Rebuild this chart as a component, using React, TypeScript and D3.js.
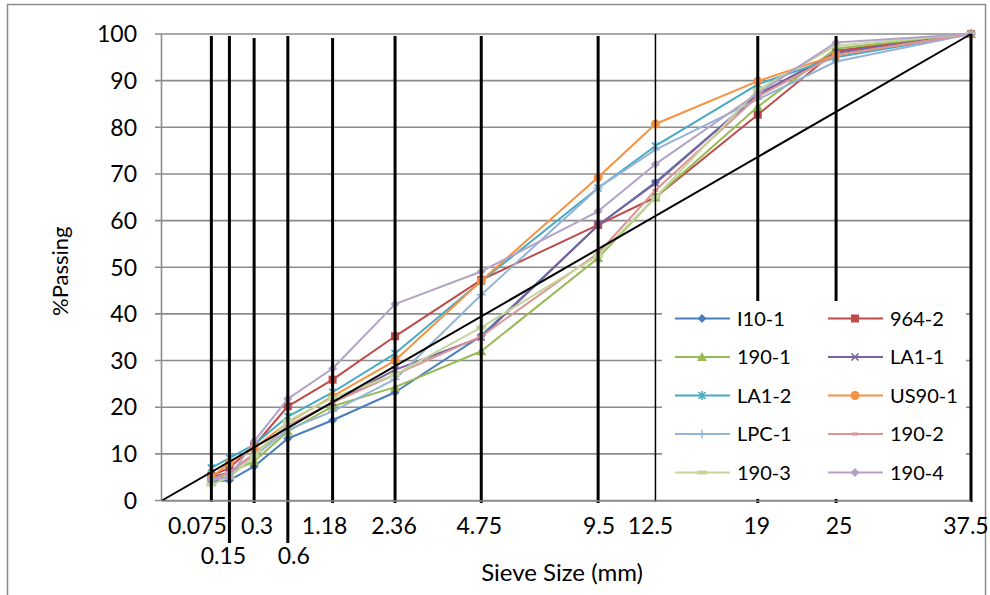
import React from "react";
import * as d3 from "d3";

// ---------- data ----------
const sieves = [0.075, 0.15, 0.3, 0.6, 1.18, 2.36, 4.75, 9.5, 12.5, 19, 25, 37.5];
const sieveLabels = ["0.075", "0.15", "0.3", "0.6", "1.18", "2.36", "4.75", "9.5", "12.5", "19", "25", "37.5"];
const yTicks = [0, 10, 20, 30, 40, 50, 60, 70, 80, 90, 100];

const seriesNames = ["I10-1", "964-2", "190-1", "LA1-1", "LA1-2", "US90-1", "LPC-1", "190-2", "190-3", "190-4"];
const i10_1 = [4.1, 4.3, 7.3, 13.3, 17.2, 23.2, 35.3, 59, 68.2, 87, 96, 100];
const s964_2 = [5.3, 7, 11.7, 20.2, 25.9, 35.2, 47.3, 59.1, 65, 82.7, 96.4, 100];
const s190_1 = [4, 6, 8.4, 14.8, 20.2, 24.3, 32, 52, 65, 84.4, 96.9, 100];
const la1_1 = [5, 6, 10, 16, 21, 28, 35, 59, 68, 87, 96, 100];
const la1_2 = [7, 9.1, 12, 18, 23.2, 31.5, 47, 67, 76, 89.2, 95, 100];
const us90_1 = [5, 8.1, 11.3, 16.7, 22.3, 30, 47.1, 69.3, 80.7, 89.9, 95.5, 100];
const lpc_1 = [4.5, 5, 9.5, 15.2, 19.1, 26, 44.1, 67, 75.2, 86, 94.1, 100];
const s190_2 = [4.5, 6, 10, 16, 21, 27, 35.2, 53, 66.5, 86.6, 95.5, 100];
const s190_3 = [3.4, 5, 9.5, 17, 22, 27, 37.1, 52.5, 65, 88, 97.5, 100];
const s190_4 = [4.5, 5, 12.7, 21.8, 28.3, 42.1, 49.1, 62, 72.1, 87.3, 98.2, 100];
const seriesValues = [i10_1, s964_2, s190_1, la1_1, la1_2, us90_1, lpc_1, s190_2, s190_3, s190_4];

// maximum density line end points
const mdlSizes = [0, 37.5];
const mdlValues = [0, 100];

// ---------- styles / layout ----------
const colors = ["#4A7EBB", "#BE4B48", "#98B954", "#7D60A0", "#46AAC5", "#F69240", "#95B3D7", "#DA9694", "#C3D69B", "#B3A2C7"];
const markers = ["diamond", "square", "triangle", "x", "star", "circle", "plus", "dash", "bar", "diamond"];

const W = 990;
const H = 595;
const FONT = "Lato, 'Open Sans', sans-serif";
const FS_LEG = 20;
const FS_TICK = 23;
const FS_TITLE = 24;

// label offsets (px) relative to sieve position, and rows
const labelDx = [-14, -6, 3, 6, -8, -1, -2, 1, -5, -1, 3, -5];
const labelRow = [0, 1, 0, 1, 0, 0, 0, 0, 0, 0, 0, 0];
// black sieve lines: top and bottom, width
const lineTop = [36, 36, 38, 36, 38, 36, 36, 36, 34, 36, 36, 34];
const lineBottom = [502, 543, 503, 543, 503, 503, 503, 503, 502, 503, 503, 502];
const lineWidth = [3, 3, 3, 3, 3, 3, 3, 3, 1.5, 3, 3, 3];

function Marker({ type, x, y, color }: { type: string; x: number; y: number; color: string }) {
  const s = 4.5;
  switch (type) {
    case "diamond":
      return <path d={`M${x},${y - s}L${x + s},${y}L${x},${y + s}L${x - s},${y}Z`} fill={color} />;
    case "square":
      return <rect x={x - 4} y={y - 4} width={8} height={8} fill={color} />;
    case "triangle":
      return <path d={`M${x},${y - 5}L${x + 5},${y + 4}L${x - 5},${y + 4}Z`} fill={color} />;
    case "circle":
      return <circle cx={x} cy={y} r={4.5} fill={color} />;
    case "x":
      return (
        <path d={`M${x - 3.5},${y - 3.5}L${x + 3.5},${y + 3.5}M${x - 3.5},${y + 3.5}L${x + 3.5},${y - 3.5}`} stroke={color} strokeWidth={1.6} />
      );
    case "star":
      return (
        <path
          d={`M${x - 3.5},${y - 3.5}L${x + 3.5},${y + 3.5}M${x - 3.5},${y + 3.5}L${x + 3.5},${y - 3.5}M${x},${y - 4.5}L${x},${y + 4.5}`}
          stroke={color}
          strokeWidth={1.6}
        />
      );
    case "plus":
      return <path d={`M${x - 4.5},${y}L${x + 4.5},${y}M${x},${y - 4.5}L${x},${y + 4.5}`} stroke={color} strokeWidth={1.4} />;
    case "dash":
      return <rect x={x - 3} y={y - 1.5} width={6} height={3} fill={color} />;
    case "bar":
      return <rect x={x - 5} y={y - 2} width={10} height={4} fill={color} />;
    default:
      return null;
  }
}

export default function App() {
  const x = d3.scalePow().exponent(0.45).domain([0, 37.5]).range([162, 971]);
  const y = d3.scaleLinear().domain([0, 100]).range([500.5, 34]);
  const line = d3
    .line<number>()
    .x((_, i) => x(sieves[i]))
    .y((d) => y(d));

  const left = 161.5;
  const right = 971;
  const grid = "#8C8C8C";

  const legend = { x0: 662, y0: 301, x1: 966, y1: 499 };
  const legRowY = [318.5, 357, 395.5, 434, 472.5];
  const legColX = [675, 828];

  return (
    <svg width={W} height={H} style={{ display: "block", position: "absolute", left: 0, top: 0 }} fontFamily={FONT}>
      <rect x={0} y={0} width={W} height={H} fill="#fff" />
      <rect x={7.5} y={4.5} width={978} height={600} fill="#fff" stroke="#8C8C8C" strokeWidth={1.5} />

      {/* gridlines */}
      {yTicks.map((t) => (
        <line key={t} x1={155} x2={right} y1={y(t)} y2={y(t)} stroke={grid} strokeWidth={1.6} />
      ))}
      <line x1={left} x2={left} y1={y(100)} y2={y(0)} stroke={grid} strokeWidth={1.6} />

      {/* y tick labels */}
      {yTicks.map((t) => (
        <text key={t} x={137} y={y(t)} dy="0.36em" textAnchor="end" fontSize={FS_TICK} fill="#000">
          {t}
        </text>
      ))}
      <text transform={`translate(68,${y(50) + 4}) rotate(-90)`} textAnchor="middle" fontSize={22} fill="#000">
        %Passing
      </text>

      {/* series */}
      {seriesValues.map((vals, si) => (
        <g key={seriesNames[si]}>
          <path d={line(vals) || ""} fill="none" stroke={colors[si]} strokeWidth={2} strokeLinejoin="round" />
          {vals.map((v, i) => (
            <Marker key={i} type={markers[si]} x={x(sieves[i])} y={y(v)} color={colors[si]} />
          ))}
        </g>
      ))}

      {/* maximum density line */}
      <line x1={x(mdlSizes[0])} y1={y(mdlValues[0])} x2={x(mdlSizes[1])} y2={y(mdlValues[1])} stroke="#000" strokeWidth={2} />

      {/* black sieve lines */}
      {sieves.map((s, i) => (
        <line key={s} x1={x(s)} x2={x(s)} y1={lineTop[i]} y2={lineBottom[i]} stroke="#000" strokeWidth={lineWidth[i]} />
      ))}

      {/* legend */}
      <rect x={legend.x0} y={legend.y0} width={legend.x1 - legend.x0} height={legend.y1 - legend.y0} fill="#fff" />
      {seriesNames.map((n, i) => {
        const col = i % 2;
        const row = Math.floor(i / 2);
        const lx = legColX[col];
        const ly = legRowY[row];
        return (
          <g key={n}>
            <line x1={lx} x2={lx + 55} y1={ly} y2={ly} stroke={colors[i]} strokeWidth={2} />
            <Marker type={markers[i]} x={lx + 27} y={ly} color={colors[i]} />
            <text x={lx + 62} y={ly} dy="0.36em" fontSize={FS_LEG} fill="#000">
              {n}
            </text>
          </g>
        );
      })}

      {/* bottom axis */}
      <line x1={left} x2={right} y1={y(0) + 0.5} y2={y(0) + 0.5} stroke={grid} strokeWidth={1.6} />

      {/* x labels */}
      {sieveLabels.map((l, i) => (
        <text
          key={l}
          x={x(sieves[i]) + labelDx[i]}
          y={labelRow[i] === 0 ? 534 : 564}
          textAnchor="middle"
          fontSize={FS_TICK}
          fill="#000"
        >
          {l}
        </text>
      ))}
      <text x={562} y={581} textAnchor="middle" fontSize={FS_TITLE} fill="#000">
        Sieve Size (mm)
      </text>
    </svg>
  );
}
